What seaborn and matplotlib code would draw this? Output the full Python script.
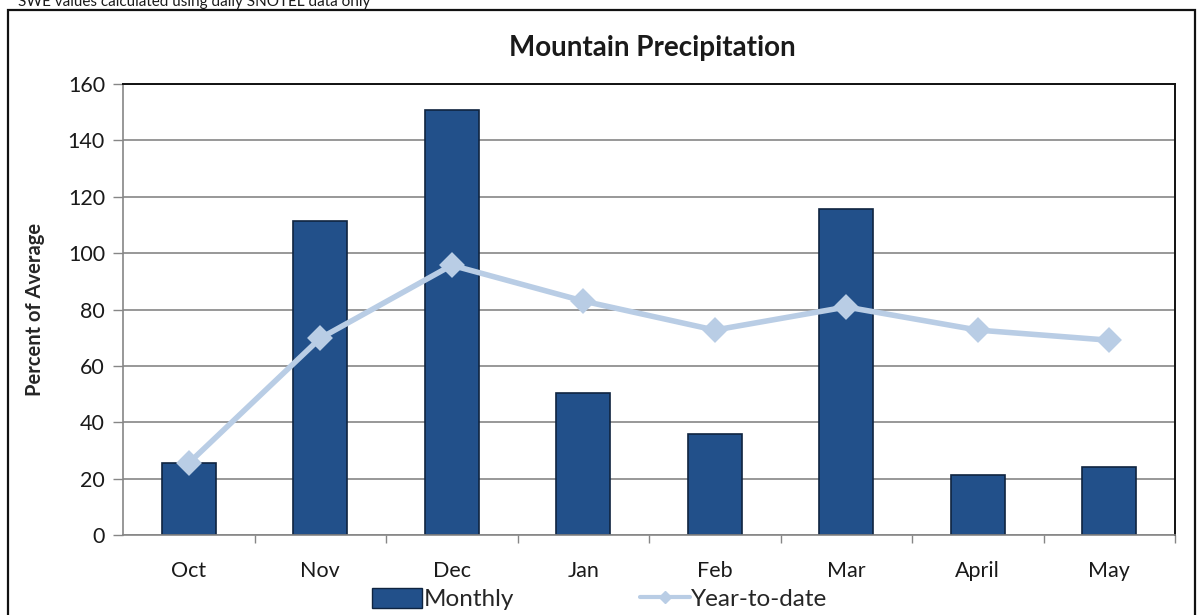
import pandas as pd
import seaborn as sns
import matplotlib.pyplot as plt
from matplotlib.patches import Patch, Rectangle
from matplotlib.lines import Line2D

months = ["Oct", "Nov", "Dec", "Jan", "Feb", "Mar", "April", "May"]
monthly = [25.5, 111.4, 150.7, 50.4, 35.8, 115.6, 21.3, 24.1]
year_to_date = [25.5, 69.8, 95.7, 83.0, 72.7, 80.9, 72.7, 69.1]

df = pd.DataFrame({"month": months, "monthly": monthly, "ytd": year_to_date})

bar_color = "#22508a"
line_color = "#b9cde5"

sns.set_theme(style="white")
plt.rcParams["font.family"] = ["Lato", "DejaVu Sans"]

fig = plt.figure(figsize=(11.98, 6.15), dpi=100)
ax = fig.add_axes([123 / 1198, 1 - 535 / 615, (1175 - 123) / 1198, (535 - 84) / 615])

sns.barplot(data=df, x="month", y="monthly", color=bar_color, width=0.41,
            edgecolor="#0f2440", linewidth=1.2, saturation=1, ax=ax, zorder=2)
sns.pointplot(data=df, x="month", y="ytd", color=line_color, markers="D",
              markersize=10, linewidth=4, ax=ax, zorder=3)

ax.set_ylim(0, 160)
ax.set_xlim(-0.5, 7.5)
ax.set_yticks(range(0, 161, 20))
ax.yaxis.grid(True, color="#868686", linewidth=1.2, zorder=0)
ax.set_axisbelow(True)
ax.set_xlabel("")
ax.set_ylabel("Percent of Average", fontsize=14.5, fontweight="bold", labelpad=16)
ax.tick_params(axis="both", labelsize=15.5, colors="#1a1a1a")
ax.tick_params(axis="y", left=True, length=7, width=1, color="#868686", pad=6)
ax.tick_params(axis="x", bottom=False, pad=13)
# ticks between categories on the x axis
ax.set_xticks([i + 0.5 for i in range(8)], minor=True)
ax.tick_params(axis="x", which="minor", bottom=True, length=6, width=1, color="#868686")

for side in ["left", "bottom"]:
    ax.spines[side].set_color("#868686")
    ax.spines[side].set_linewidth(1.2)
for side in ["top", "right"]:
    ax.spines[side].set_color("#111111")
    ax.spines[side].set_linewidth(1.4)

fig.text(652 / 1198, 1 - 48 / 615, "Mountain Precipitation", ha="center", va="center",
         fontsize=20, fontweight="bold", color="#1a1a1a")
fig.text(18 / 1198, 1 - 2 / 615, "SWE values calculated using daily SNOTEL data only",
         ha="left", va="center", fontsize=11, color="#1a1a1a")

fig.patches.append(Rectangle((8 / 1198, -0.05), (1195 - 8) / 1198, 1.05 - 10 / 615,
                             transform=fig.transFigure, fill=False,
                             edgecolor="#111111", linewidth=1.6))

handles = [
    Patch(facecolor=bar_color, edgecolor="#0f2440", label="Monthly"),
    Line2D([0], [0], color=line_color, linewidth=3, marker="D", markersize=6,
           label="Year-to-date"),
]
fig.legend(handles=handles, loc="center", bbox_to_anchor=(600 / 1198, 1 - 599 / 615),
           ncol=2, frameon=False, fontsize=17.5, handlelength=2.05, handletextpad=0.05,
           columnspacing=5.2, borderaxespad=0, handleheight=0.9)

fig.savefig("out.png", dpi=100)
